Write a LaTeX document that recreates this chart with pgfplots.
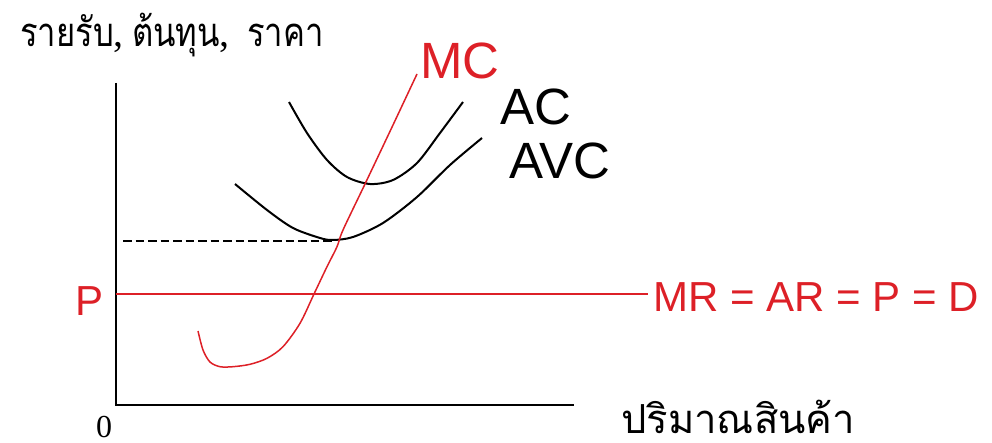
\documentclass[border=0pt]{standalone}
\usepackage{fontspec}
\setmainfont{Liberation Sans}
\newfontfamily\thaifont[Script=Thai]{Loma}
\newfontfamily\thainarrow[Script=Thai, FakeStretch=0.82]{Loma}
\newfontfamily\serif{Liberation Serif}
\usepackage{pgfplots}
\pgfplotsset{compat=1.18}
\definecolor{mcred}{RGB}{221,32,39}

\begin{document}
\begin{tikzpicture}
\begin{axis}[
    scale only axis,
    width=992pt, height=442pt,
    xmin=0, xmax=992, ymin=0, ymax=442,
    hide axis, clip=false,
]
    % axes
    \addplot[black, line width=2pt] coordinates {(116,359) (116,37) (574,37)};
    % price line
    \addplot[mcred, line width=1.8pt] coordinates {(116,148) (648,148)};
    % dashed min AVC level
    \addplot[black, line width=2pt, dash pattern=on 8.5pt off 4pt] coordinates {(123,201) (332,201)};
    % AC
    \addplot[black, line width=2pt, smooth] coordinates {
        (289,340) (307,309) (327,282) (347,265) (370,258) (393,262) (417,279) (440,309) (463,340)};
    % AVC
    \addplot[black, line width=2pt, smooth] coordinates {
        (235,258) (267,232) (293,214) (320,204) (333,202) (353,205) (383,219) (417,245) (450,277) (482,304)};
    % MC
    \addplot[mcred, line width=1.5pt, smooth, tension=0.5] coordinates {
        (198,111) (203,92) (210,80) (220,75.3) (233,75.3) (250,77.7) (267,83.7) (283,95.3)
        (300,118.7) (314,148) (327,175.3) (337,195.3) (343,212) (365,258) (393,317) (417,368)};

    \node[anchor=base west, inner sep=0, text=mcred, font=\fontsize{51}{51}\selectfont] at (axis cs:420,363) {MC};
    \node[anchor=base west, inner sep=0, font=\fontsize{51}{51}\selectfont] at (axis cs:500,317) {AC};
    \node[anchor=base west, inner sep=0, font=\fontsize{51}{51}\selectfont] at (axis cs:509,263) {AVC};
    \node[anchor=base west, inner sep=0, text=mcred, font=\fontsize{42}{42}\selectfont] at (axis cs:653,130.5) {MR = AR = P = D};
    \node[anchor=base west, inner sep=0, text=mcred, font=\fontsize{42}{42}\selectfont] at (axis cs:75,126.5) {P};
    \node[anchor=base west, inner sep=0, font=\serif\fontsize{32}{32}\selectfont] at (axis cs:96,5) {0};
    \node[anchor=base west, inner sep=0, font=\thainarrow\fontsize{40}{40}\selectfont] at (axis cs:20,395) {รายรับ{\serif,}};
    \node[anchor=base west, inner sep=0, font=\thainarrow\fontsize{40}{40}\selectfont] at (axis cs:132,395) {ต้นทุน{\serif,}};
    \node[anchor=base west, inner sep=0, font=\thainarrow\fontsize{40}{40}\selectfont] at (axis cs:247,395) {ราคา};
    \node[anchor=base west, inner sep=0, font=\thaifont\fontsize{40}{40}\selectfont] at (axis cs:621,9) {ปริมาณสินค้า};
\end{axis}
\pgfresetboundingbox
\path (0,0) rectangle (992pt,442pt);
\end{tikzpicture}
\end{document}
